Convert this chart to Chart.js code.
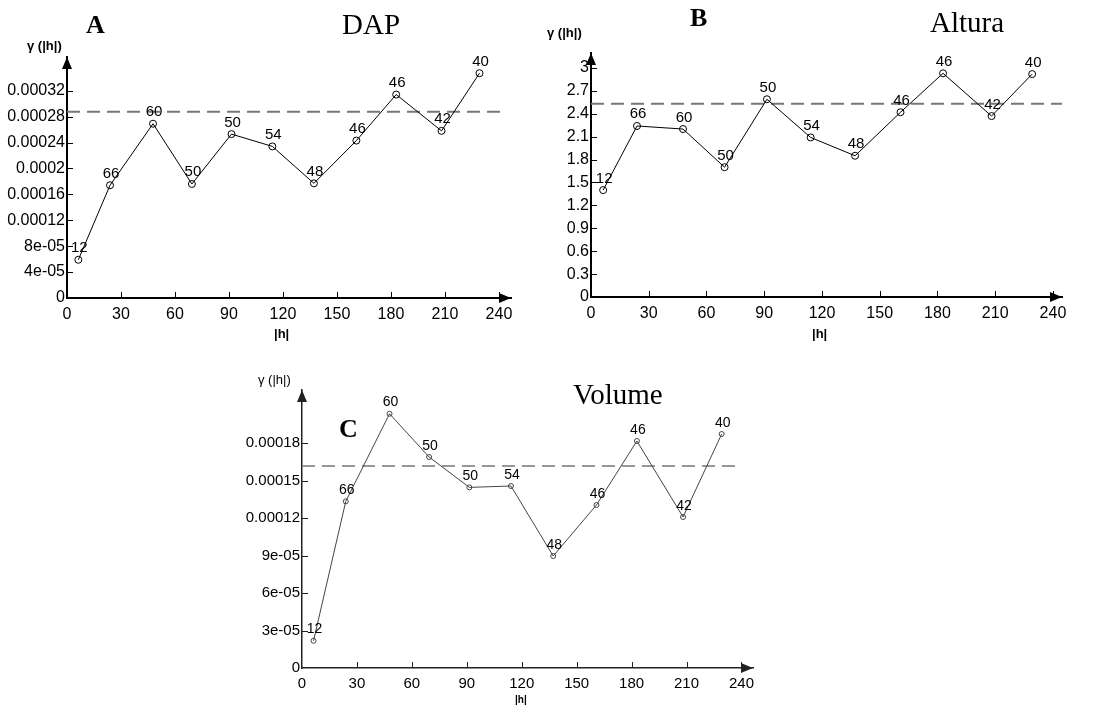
<!DOCTYPE html>
<html>
<head>
<meta charset="utf-8">
<script src="https://cdn.jsdelivr.net/npm/chart.js@4.4.1/dist/chart.umd.min.js"></script>
<style>
  body { margin: 0; background: #fff; width: 1094px; height: 705px; position: relative; overflow: hidden; font-family: 'Liberation Sans', Arial, sans-serif; }
  .panel { position: absolute; }
  .lbl { position: absolute; white-space: nowrap; line-height: 1; color: #000; }
  .letter { font-family: 'Liberation Serif', 'Times New Roman', serif; font-weight: bold; font-size: 26px; }
  .title { font-family: 'Liberation Serif', 'Times New Roman', serif; font-size: 29px; }
  .ytitle { font-weight: bold; font-size: 13px; }
  .xtitle { font-weight: bold; font-size: 13px; }
</style>
</head>
<body>
<div class="panel" style="left:0;top:0;width:540px;height:340px"><canvas id="chartA"></canvas></div>
<div class="panel" style="left:540px;top:0;width:554px;height:340px"><canvas id="chartB"></canvas></div>
<div class="panel" style="left:240px;top:340px;width:620px;height:365px"><canvas id="chartC"></canvas></div>

<div class="lbl letter" style="left:86px;top:12px">A</div>
<div class="lbl title" style="left:342px;top:10px">DAP</div>
<div class="lbl ytitle" style="left:27px;top:39px">γ (|h|)</div>
<div class="lbl xtitle" style="left:274px;top:327px">|h|</div>

<div class="lbl letter" style="left:690px;top:5px">B</div>
<div class="lbl title" style="left:930px;top:8px">Altura</div>
<div class="lbl ytitle" style="left:547px;top:26px">γ (|h|)</div>
<div class="lbl xtitle" style="left:812px;top:327px">|h|</div>

<div class="lbl letter" style="left:339px;top:416px">C</div>
<div class="lbl title" style="left:573px;top:380px">Volume</div>
<div class="lbl" style="left:258px;top:373px;font-size:13px">γ (|h|)</div>
<div class="lbl xtitle" style="left:515px;top:695px;font-size:10px">|h|</div>

<script>
// lag distances and number of pairs per lag (same for the three variables)
const lagDistance = [6.3, 23.9, 47.8, 69.4, 91.4, 114.1, 137.2, 160.8, 182.9, 208.1, 229.2]
const pairCount = [12, 66, 60, 50, 50, 54, 48, 46, 46, 42, 40]
const xTickValues = [0, 30, 60, 90, 120, 150, 180, 210, 240]

// A - DAP
const dapGamma = [0.000059, 0.000174, 0.000269, 0.000176, 0.000253, 0.000234, 0.000177, 0.000243, 0.000314, 0.000258, 0.000347]
const dapSill = 0.0002875
const dapTicks = [0, 0.00004, 0.00008, 0.00012, 0.00016, 0.0002, 0.00024, 0.00028, 0.00032]
const dapTickLabels = ['0', '4e-05', '8e-05', '0.00012', '0.00016', '0.0002', '0.00024', '0.00028', '0.00032']

// B - Altura
const alturaGamma = [1.40, 2.24, 2.20, 1.70, 2.59, 2.09, 1.85, 2.42, 2.93, 2.37, 2.92]
const alturaSill = 2.53
const alturaTicks = [0, 0.3, 0.6, 0.9, 1.2, 1.5, 1.8, 2.1, 2.4, 2.7, 3]
const alturaTickLabels = ['0', '0.3', '0.6', '0.9', '1.2', '1.5', '1.8', '2.1', '2.4', '2.7', '3']

// C - Volume
const volumeGamma = [0.0000218, 0.0001333, 0.0002034, 0.0001688, 0.0001445, 0.0001456, 0.0000896, 0.0001304, 0.0001816, 0.0001208, 0.0001872]
const volumeSill = 0.0001616
const volumeTicks = [0, 0.00003, 0.00006, 0.00009, 0.00012, 0.00015, 0.00018]
const volumeTickLabels = ['0', '3e-05', '6e-05', '9e-05', '0.00012', '0.00015', '0.00018']

// tick marks inside the plot, arrow heads and pair counts above the points
const axisDecor = {
  id: 'axisDecor',
  afterDraw(chart, args, opts) {
    const { ctx, chartArea: area, scales: { x, y } } = chart
    ctx.save()
    ctx.strokeStyle = opts.color
    ctx.fillStyle = opts.color
    ctx.lineWidth = opts.tickWidth
    ctx.beginPath()
    xTickValues.forEach(v => {
      if (v === 0) return
      const px = Math.round(x.getPixelForValue(v)) + 0.5
      ctx.moveTo(px, area.bottom)
      ctx.lineTo(px, area.bottom - opts.tickLength)
    })
    opts.yTicks.forEach(v => {
      if (v === 0) return
      const py = Math.round(y.getPixelForValue(v)) + 0.5
      ctx.moveTo(area.left, py)
      ctx.lineTo(area.left + opts.tickLength, py)
    })
    ctx.stroke()

    const a = opts.arrow
    ctx.beginPath()
    ctx.moveTo(area.right, area.bottom)
    ctx.lineTo(area.right - a, area.bottom - a / 2.4)
    ctx.lineTo(area.right - a, area.bottom + a / 2.4)
    ctx.closePath()
    ctx.fill()
    ctx.beginPath()
    ctx.moveTo(area.left, area.top)
    ctx.lineTo(area.left - a / 2.4, area.top + a)
    ctx.lineTo(area.left + a / 2.4, area.top + a)
    ctx.closePath()
    ctx.fill()

    ctx.fillStyle = '#000'
    ctx.font = opts.labelFont
    ctx.textAlign = 'center'
    ctx.textBaseline = 'alphabetic'
    chart.getDatasetMeta(0).data.forEach((pt, i) => {
      ctx.fillText(String(pairCount[i]), pt.x + 1, pt.y - opts.labelGap)
    })
    ctx.restore()
  }
}

function makeVariogram(id, cfg) {
  const points = lagDistance.map((h, i) => ({ x: h, y: cfg.gamma[i] }))
  const sillLine = [{ x: 0, y: cfg.sill }, { x: cfg.sillEnd, y: cfg.sill }]

  new Chart(document.getElementById(id), {
    type: 'scatter',
    data: {
      datasets: [
        {
          data: points,
          showLine: true,
          borderColor: cfg.lineColor,
          borderWidth: 1,
          pointStyle: 'circle',
          pointRadius: cfg.pointRadius,
          pointBackgroundColor: 'rgba(255,255,255,0)',
          pointBorderColor: cfg.lineColor,
          pointBorderWidth: 1,
          tension: 0,
        },
        {
          data: sillLine,
          showLine: true,
          borderColor: '#777',
          borderWidth: cfg.sillWidth,
          borderDash: [13, 7],
          pointRadius: 0,
        },
      ],
    },
    options: {
      responsive: true,
      maintainAspectRatio: false,
      animation: false,
      layout: { padding: { left: 0, top: cfg.padTop, right: cfg.padRight, bottom: 0 } },
      plugins: {
        legend: { display: false },
        tooltip: { enabled: false },
        axisDecor: {
          yTicks: cfg.yTicks,
          color: cfg.axisColor,
          tickWidth: 1,
          tickLength: 6,
          arrow: 12,
          labelFont: cfg.labelFont,
          labelGap: 7.5,
        },
      },
      scales: {
        x: {
          type: 'linear',
          min: 0,
          max: cfg.xMax,
          grid: { display: false, drawTicks: false },
          border: { display: true, color: cfg.axisColor, width: cfg.axisWidth },
          afterBuildTicks: s => { s.ticks = xTickValues.map(v => ({ value: v })) },
          afterFit: s => { s.height = cfg.xHeight },
          ticks: {
            color: '#000',
            padding: 7,
            maxRotation: 0,
            font: { family: 'Liberation Sans', size: cfg.tickSize },
            callback: v => String(v),
          },
        },
        y: {
          type: 'linear',
          min: 0,
          max: cfg.yMax,
          grid: { display: false, drawTicks: false },
          border: { display: true, color: cfg.axisColor, width: cfg.axisWidth },
          afterBuildTicks: s => { s.ticks = cfg.yTicks.map(v => ({ value: v })) },
          afterFit: s => { s.width = cfg.yWidth },
          ticks: {
            color: '#000',
            padding: 2,
            font: { family: 'Liberation Sans', size: cfg.tickSize },
            callback: (v, i) => cfg.yLabels[i],
          },
        },
      },
    },
    plugins: [axisDecor],
  })
}

makeVariogram('chartA', {
  gamma: dapGamma, sill: dapSill, sillEnd: 243.6,
  yTicks: dapTicks, yLabels: dapTickLabels,
  xMax: 246.7, yMax: 0.000372,
  padTop: 57, padRight: 29, yWidth: 67, xHeight: 42,
  tickSize: 16, labelFont: '15px "Liberation Sans"',
  lineColor: '#000', axisColor: '#000', axisWidth: 2, sillWidth: 2, pointRadius: 3.5,
})

makeVariogram('chartB', {
  gamma: alturaGamma, sill: alturaSill, sillEnd: 244.7,
  yTicks: alturaTicks, yLabels: alturaTickLabels,
  xMax: 244.7, yMax: 3.196,
  padTop: 53, padRight: 32, yWidth: 51, xHeight: 43,
  tickSize: 16, labelFont: '15px "Liberation Sans"',
  lineColor: '#000', axisColor: '#000', axisWidth: 2, sillWidth: 2, pointRadius: 3.5,
})

makeVariogram('chartC', {
  gamma: volumeGamma, sill: volumeSill, sillEnd: 239,
  yTicks: volumeTicks, yLabels: volumeTickLabels,
  xMax: 246.3, yMax: 0.0002224,
  padTop: 50, padRight: 107, yWidth: 62, xHeight: 37,
  tickSize: 15, labelFont: '14px "Liberation Sans"',
  lineColor: '#444', axisColor: '#222', axisWidth: 1.5, sillWidth: 1.5, pointRadius: 2.5,
})
</script>
</body>
</html>
